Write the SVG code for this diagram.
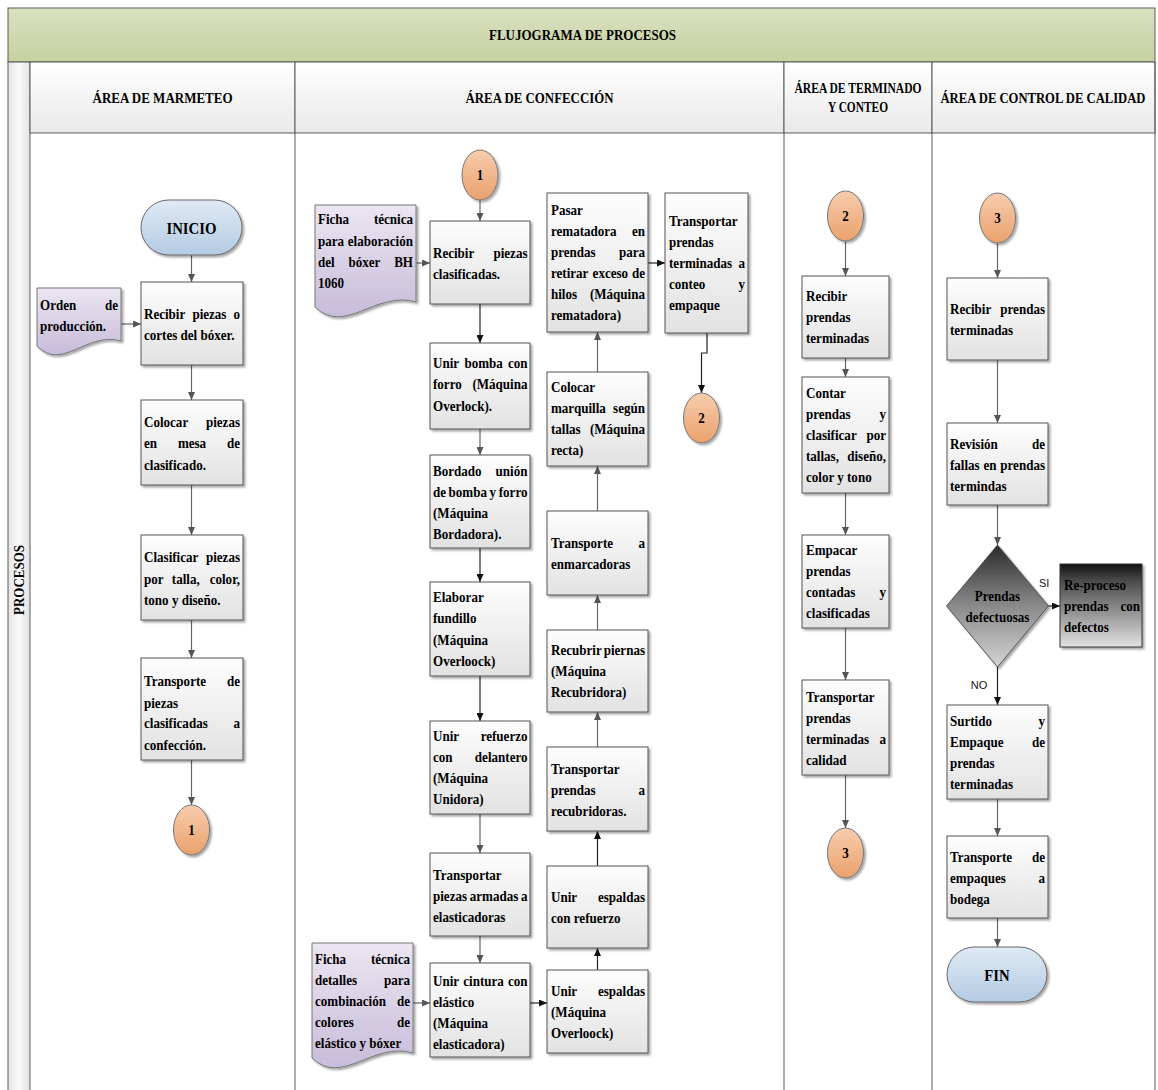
<svg xmlns="http://www.w3.org/2000/svg" width="1158" height="1090" viewBox="0 0 1158 1090">
  <defs>
    <linearGradient id="gTitle" x1="0" y1="0" x2="0" y2="1">
      <stop offset="0" stop-color="#d9e1c0"/>
      <stop offset="1" stop-color="#c6d1a1"/>
    </linearGradient>
    <linearGradient id="gHead" x1="0" y1="0" x2="0" y2="1">
      <stop offset="0" stop-color="#ffffff"/>
      <stop offset="1" stop-color="#e9e9e9"/>
    </linearGradient>
    <linearGradient id="gStrip" x1="0" y1="0" x2="1" y2="0">
      <stop offset="0" stop-color="#e4e4e4"/>
      <stop offset="0.5" stop-color="#fafafa"/>
      <stop offset="1" stop-color="#e2e2e2"/>
    </linearGradient>
    <linearGradient id="gBox" x1="0" y1="0" x2="0" y2="1">
      <stop offset="0" stop-color="#fdfdfd"/>
      <stop offset="1" stop-color="#e2e2e2"/>
    </linearGradient>
    <linearGradient id="gDoc" x1="0" y1="0" x2="0" y2="1">
      <stop offset="0" stop-color="#ebe6f1"/>
      <stop offset="1" stop-color="#c7bcda"/>
    </linearGradient>
    <linearGradient id="gTerm" x1="0" y1="0" x2="0" y2="1">
      <stop offset="0" stop-color="#dfeaf5"/>
      <stop offset="1" stop-color="#b4cbe3"/>
    </linearGradient>
    <linearGradient id="gConn" x1="0" y1="0" x2="0" y2="1">
      <stop offset="0" stop-color="#f7cdae"/>
      <stop offset="1" stop-color="#eaa16c"/>
    </linearGradient>
    <linearGradient id="gDia" x1="0" y1="0" x2="0" y2="1">
      <stop offset="0" stop-color="#2b2b2b"/>
      <stop offset="0.5" stop-color="#8a8a8a"/>
      <stop offset="1" stop-color="#d4d4d4"/>
    </linearGradient>
    <linearGradient id="gDark" x1="0" y1="0" x2="0" y2="1">
      <stop offset="0" stop-color="#111111"/>
      <stop offset="0.2" stop-color="#4a4a4a"/>
      <stop offset="1" stop-color="#e2e2e2"/>
    </linearGradient>
    <filter id="sh" x="-15%" y="-15%" width="140%" height="140%">
      <feDropShadow dx="2" dy="2" stdDeviation="1.2" flood-color="#000" flood-opacity="0.35"/>
    </filter>
    <marker id="ag" viewBox="0 0 8 7" refX="8" refY="3.5" markerWidth="8" markerHeight="7" markerUnits="userSpaceOnUse" orient="auto">
      <path d="M0,0 L8,3.5 L0,7 Z" fill="#555"/>
    </marker>
    <marker id="ab" viewBox="0 0 8 7" refX="8" refY="3.5" markerWidth="8" markerHeight="7" markerUnits="userSpaceOnUse" orient="auto">
      <path d="M0,0 L8,3.5 L0,7 Z" fill="#111"/>
    </marker>
  </defs>
  <style>
    .frame { fill: none; stroke: #5a5a5a; stroke-width: 1; }
    .hd { fill: url(#gHead); stroke: #5a5a5a; stroke-width: 1; }
    .box { fill: url(#gBox); stroke: #555; stroke-width: 1; filter: url(#sh); }
    .doc { fill: url(#gDoc); stroke: #777; stroke-width: 1; filter: url(#sh); }
    .term { fill: url(#gTerm); stroke: #666; stroke-width: 1; filter: url(#sh); }
    .conn { fill: url(#gConn); stroke: #777; stroke-width: 1; filter: url(#sh); }
    /* node texts sit in groups squeezed horizontally (scale 0.87) for a condensed face */
    .t { font-family: "Liberation Serif", "Times New Roman", serif; font-weight: bold; font-size: 15px; fill: #000; }
    .h { font-family: "Liberation Serif", "Times New Roman", serif; font-weight: bold; font-size: 15px; fill: #000; }
    .s { font-family: "Liberation Sans", Arial, sans-serif; font-size: 11px; fill: #111; }
    .e { text-anchor: end; }
    .c { text-anchor: middle; }
    .big { font-size: 17px; }
    .ln { fill: none; stroke: #666; stroke-width: 1.2; marker-end: url(#ag); }
    .lb { fill: none; stroke: #222; stroke-width: 1.2; marker-end: url(#ab); }
  </style>

  <rect width="1158" height="1090" fill="#ffffff"/>

  <!-- frame: title band, lane headers, lane borders -->
  <g id="frame">
    <rect x="8" y="8" width="1147" height="54" fill="url(#gTitle)" stroke="#5a5a5a"/>
    <text x="582.5" y="40" class="h c" textLength="187" lengthAdjust="spacingAndGlyphs">FLUJOGRAMA DE PROCESOS</text>
    <rect x="8" y="62" width="22" height="1030" fill="url(#gStrip)" stroke="#5a5a5a"/>
    <text transform="translate(24,580) rotate(-90)" class="h c" font-size="14" textLength="70" lengthAdjust="spacingAndGlyphs">PROCESOS</text>
    <rect x="30" y="62" width="265" height="71" class="hd"/>
    <rect x="295" y="62" width="489" height="71" class="hd"/>
    <rect x="784" y="62" width="148" height="71" class="hd"/>
    <rect x="932" y="62" width="223" height="71" class="hd"/>
    <text x="162.5" y="103" class="h c" textLength="140" lengthAdjust="spacingAndGlyphs">ÁREA DE MARMETEO</text>
    <text x="539.5" y="103" class="h c" textLength="148" lengthAdjust="spacingAndGlyphs">ÁREA DE CONFECCIÓN</text>
    <text x="858" y="93" class="h c" font-size="14" textLength="127" lengthAdjust="spacingAndGlyphs">ÁREA DE TERMINADO</text>
    <text x="858" y="112" class="h c" font-size="14" textLength="60" lengthAdjust="spacingAndGlyphs">Y CONTEO</text>
    <text x="1043" y="103" class="h c" font-size="13" textLength="205" lengthAdjust="spacingAndGlyphs">ÁREA DE CONTROL DE CALIDAD</text>
    <path class="frame" d="M295,133 V1092 M784,133 V1092 M932,133 V1092 M1155,62 V1092"/>
  </g>

  <!-- connectors -->
  <g id="connectors">
    <!-- marmeteo -->
    <path class="ln" d="M191.5,255 V282"/>
    <path class="ln" d="M121,324 H141"/>
    <path class="ln" d="M191.5,365 V400"/>
    <path class="ln" d="M191.5,485 V535"/>
    <path class="ln" d="M191.5,620 V658"/>
    <path class="ln" d="M191.5,760 V805"/>
    <!-- confeccion, down stack -->
    <path class="ln" d="M480,200 V221"/>
    <path class="ln" d="M416,263 H430"/>
    <path class="lb" d="M480,304 V343"/>
    <path class="ln" d="M480,429 V455"/>
    <path class="lb" d="M480,548 V582"/>
    <path class="lb" d="M480,676 V721"/>
    <path class="ln" d="M480,814 V853"/>
    <path class="ln" d="M480,936 V963"/>
    <path class="ln" d="M413,1003 H430"/>
    <path class="lb" d="M530,1003 H547"/>
    <!-- confeccion, up stack -->
    <path class="lb" d="M597.5,970 V948"/>
    <path class="lb" d="M597.5,866 V831"/>
    <path class="ln" d="M597.5,747 V712"/>
    <path class="ln" d="M597.5,630 V595"/>
    <path class="ln" d="M597.5,511 V466"/>
    <path class="ln" d="M597.5,372 V332"/>
    <path class="lb" d="M648,263 H665"/>
    <path class="lb" d="M707,333 V353 H701.5 V393"/>
    <!-- terminado -->
    <path class="ln" d="M845.5,241 V276"/>
    <path class="ln" d="M845.5,358 V377"/>
    <path class="ln" d="M845.5,493 V535"/>
    <path class="ln" d="M845.5,628 V680"/>
    <path class="ln" d="M845.5,775 V828"/>
    <!-- calidad -->
    <path class="ln" d="M997.5,243 V278"/>
    <path class="ln" d="M997.5,360 V423"/>
    <path class="ln" d="M997.5,505 V545"/>
    <path class="lb" d="M1048.5,606 H1060"/>
    <path class="lb" d="M997.5,667 V705"/>
    <path class="ln" d="M997.5,799 V836"/>
    <path class="ln" d="M997.5,918 V947"/>
    <text x="1039" y="587" class="s">SI</text>
    <text x="979" y="689" class="s c">NO</text>
  </g>

  <!-- ÁREA DE MARMETEO -->
  <g id="inicio">
    <rect x="141" y="200" width="101" height="55" rx="27.5" class="term"/>
    <g transform="scale(0.87,1)"><text x="220.11" y="234" class="t c big">INICIO</text></g>
  </g>
  <g id="doc-orden">
    <path class="doc" d="M37,288 H121 V341 C87,331 62,372 37,346 Z"/>
    <g transform="scale(0.87,1)">
      <text x="45.98" y="310" class="t">Orden</text><text x="135.63" y="310" class="t e">de</text>
      <text x="45.98" y="331" class="t">producción.</text>
    </g>
  </g>
  <g id="m-recibir">
    <rect x="141" y="282" width="102" height="83" class="box"/>
    <g transform="scale(0.87,1)">
      <text x="165.52" y="319" class="t">Recibir</text><text x="221.15" y="319" class="t">piezas</text><text x="275.86" y="319" class="t e">o</text>
      <text x="165.52" y="340" class="t">cortes del bóxer.</text>
    </g>
  </g>
  <g id="m-colocar">
    <rect x="141" y="400" width="102" height="85" class="box"/>
    <g transform="scale(0.87,1)">
      <text x="165.52" y="427" class="t">Colocar</text><text x="275.86" y="427" class="t e">piezas</text>
      <text x="165.52" y="448" class="t">en</text><text x="204.48" y="448" class="t">mesa</text><text x="275.86" y="448" class="t e">de</text>
      <text x="165.52" y="470" class="t">clasificado.</text>
    </g>
  </g>
  <g id="m-clasificar">
    <rect x="141" y="535" width="102" height="85" class="box"/>
    <g transform="scale(0.87,1)">
      <text x="165.52" y="562" class="t">Clasificar</text><text x="275.86" y="562" class="t e">piezas</text>
      <text x="165.52" y="584" class="t">por</text><text x="197.47" y="584" class="t">talla,</text><text x="275.86" y="584" class="t e">color,</text>
      <text x="165.52" y="605" class="t">tono y diseño.</text>
    </g>
  </g>
  <g id="m-transporte">
    <rect x="141" y="658" width="102" height="102" class="box"/>
    <g transform="scale(0.87,1)">
      <text x="165.52" y="686" class="t">Transporte</text><text x="275.86" y="686" class="t e">de</text>
      <text x="165.52" y="708" class="t">piezas</text>
      <text x="165.52" y="728" class="t">clasificadas</text><text x="275.86" y="728" class="t e">a</text>
      <text x="165.52" y="750" class="t">confección.</text>
    </g>
  </g>
  <g id="m-conector-1">
    <ellipse cx="191.5" cy="830" rx="18" ry="25" class="conn"/>
    <g transform="scale(0.87,1)"><text x="220.11" y="835.5" class="t c">1</text></g>
  </g>

  <!-- ÁREA DE CONFECCIÓN -->
  <g id="c-conector-1">
    <ellipse cx="480" cy="175" rx="18" ry="25" class="conn"/>
    <g transform="scale(0.87,1)"><text x="551.72" y="180.5" class="t c">1</text></g>
  </g>
  <g id="doc-ficha-1">
    <path class="doc" d="M315,205 H416 V302 C376,290 345,336 315,307 Z"/>
    <g transform="scale(0.87,1)">
      <text x="365.52" y="224" class="t">Ficha</text><text x="474.71" y="224" class="t e">técnica</text>
      <text x="365.52" y="246" class="t">para</text><text x="474.71" y="246" class="t e">elaboración</text>
      <text x="365.52" y="267" class="t">del</text><text x="400.57" y="267" class="t">bóxer</text><text x="474.71" y="267" class="t e">BH</text>
      <text x="365.52" y="288" class="t">1060</text>
    </g>
  </g>
  <g id="c-recibir">
    <rect x="430" y="221" width="100" height="83" class="box"/>
    <g transform="scale(0.87,1)">
      <text x="497.70" y="258" class="t">Recibir</text><text x="606.32" y="258" class="t e">piezas</text>
      <text x="497.70" y="279" class="t">clasificadas.</text>
    </g>
  </g>
  <g id="c-unir-bomba">
    <rect x="430" y="343" width="100" height="86" class="box"/>
    <g transform="scale(0.87,1)">
      <text x="497.70" y="368" class="t">Unir</text><text x="533.79" y="368" class="t">bomba</text><text x="606.32" y="368" class="t e">con</text>
      <text x="497.70" y="389" class="t">forro</text><text x="606.32" y="389" class="t e">(Máquina</text>
      <text x="497.70" y="411" class="t">Overlock).</text>
    </g>
  </g>
  <g id="c-bordado">
    <rect x="430" y="455" width="100" height="93" class="box"/>
    <g transform="scale(0.87,1)">
      <text x="497.70" y="476" class="t">Bordado</text><text x="606.32" y="476" class="t e">unión</text>
      <text x="497.70" y="497" class="t">de</text><text x="515.63" y="497" class="t">bomba</text><text x="562.64" y="497" class="t">y</text><text x="606.32" y="497" class="t e">forro</text>
      <text x="497.70" y="518" class="t">(Máquina</text>
      <text x="497.70" y="539" class="t">Bordadora).</text>
    </g>
  </g>
  <g id="c-fundillo">
    <rect x="430" y="582" width="100" height="94" class="box"/>
    <g transform="scale(0.87,1)">
      <text x="497.70" y="602" class="t">Elaborar</text>
      <text x="497.70" y="623" class="t">fundillo</text>
      <text x="497.70" y="645" class="t">(Máquina</text>
      <text x="497.70" y="666" class="t">Overloock)</text>
    </g>
  </g>
  <g id="c-refuerzo">
    <rect x="430" y="721" width="100" height="93" class="box"/>
    <g transform="scale(0.87,1)">
      <text x="497.70" y="741" class="t">Unir</text><text x="606.32" y="741" class="t e">refuerzo</text>
      <text x="497.70" y="762" class="t">con</text><text x="606.32" y="762" class="t e">delantero</text>
      <text x="497.70" y="783" class="t">(Máquina</text>
      <text x="497.70" y="804" class="t">Unidora)</text>
    </g>
  </g>
  <g id="c-transportar-piezas">
    <rect x="430" y="853" width="100" height="83" class="box"/>
    <g transform="scale(0.87,1)">
      <text x="497.70" y="880" class="t">Transportar</text>
      <text x="497.70" y="901" class="t">piezas</text><text x="540.00" y="901" class="t">armadas</text><text x="606.32" y="901" class="t e">a</text>
      <text x="497.70" y="922" class="t">elasticadoras</text>
    </g>
  </g>
  <g id="doc-ficha-2">
    <path class="doc" d="M312,943 H413 V1053 C373,1041 342,1087 312,1058 Z"/>
    <g transform="scale(0.87,1)">
      <text x="362.07" y="964" class="t">Ficha</text><text x="471.26" y="964" class="t e">técnica</text>
      <text x="362.07" y="985" class="t">detalles</text><text x="471.26" y="985" class="t e">para</text>
      <text x="362.07" y="1006" class="t">combinación</text><text x="471.26" y="1006" class="t e">de</text>
      <text x="362.07" y="1027" class="t">colores</text><text x="471.26" y="1027" class="t e">de</text>
      <text x="362.07" y="1048" class="t">elástico y bóxer</text>
    </g>
  </g>
  <g id="c-cintura">
    <rect x="430" y="963" width="100" height="94" class="box"/>
    <g transform="scale(0.87,1)">
      <text x="497.70" y="986" class="t">Unir</text><text x="532.53" y="986" class="t">cintura</text><text x="606.32" y="986" class="t e">con</text>
      <text x="497.70" y="1007" class="t">elástico</text>
      <text x="497.70" y="1028" class="t">(Máquina</text>
      <text x="497.70" y="1049" class="t">elasticadora)</text>
    </g>
  </g>
  <g id="c-espaldas-overloock">
    <rect x="547" y="970" width="101" height="83" class="box"/>
    <g transform="scale(0.87,1)">
      <text x="633.33" y="996" class="t">Unir</text><text x="741.38" y="996" class="t e">espaldas</text>
      <text x="633.33" y="1017" class="t">(Máquina</text>
      <text x="633.33" y="1038" class="t">Overloock)</text>
    </g>
  </g>
  <g id="c-espaldas-refuerzo">
    <rect x="547" y="866" width="101" height="82" class="box"/>
    <g transform="scale(0.87,1)">
      <text x="633.33" y="902" class="t">Unir</text><text x="741.38" y="902" class="t e">espaldas</text>
      <text x="633.33" y="923" class="t">con refuerzo</text>
    </g>
  </g>
  <g id="c-transportar-recubridoras">
    <rect x="547" y="747" width="101" height="84" class="box"/>
    <g transform="scale(0.87,1)">
      <text x="633.33" y="774" class="t">Transportar</text>
      <text x="633.33" y="795" class="t">prendas</text><text x="741.38" y="795" class="t e">a</text>
      <text x="633.33" y="816" class="t">recubridoras.</text>
    </g>
  </g>
  <g id="c-recubrir">
    <rect x="547" y="630" width="101" height="82" class="box"/>
    <g transform="scale(0.87,1)">
      <text x="633.33" y="655" class="t">Recubrir</text><text x="741.38" y="655" class="t e">piernas</text>
      <text x="633.33" y="676" class="t">(Máquina</text>
      <text x="633.33" y="697" class="t">Recubridora)</text>
    </g>
  </g>
  <g id="c-enmarcadoras">
    <rect x="547" y="511" width="101" height="84" class="box"/>
    <g transform="scale(0.87,1)">
      <text x="633.33" y="548" class="t">Transporte</text><text x="741.38" y="548" class="t e">a</text>
      <text x="633.33" y="569" class="t">enmarcadoras</text>
    </g>
  </g>
  <g id="c-marquilla">
    <rect x="547" y="372" width="101" height="94" class="box"/>
    <g transform="scale(0.87,1)">
      <text x="633.33" y="392" class="t">Colocar</text>
      <text x="633.33" y="413" class="t">marquilla</text><text x="741.38" y="413" class="t e">según</text>
      <text x="633.33" y="434" class="t">tallas</text><text x="741.38" y="434" class="t e">(Máquina</text>
      <text x="633.33" y="455" class="t">recta)</text>
    </g>
  </g>
  <g id="c-rematadora">
    <rect x="547" y="193" width="101" height="139" class="box"/>
    <g transform="scale(0.87,1)">
      <text x="633.33" y="215.5" class="t">Pasar</text>
      <text x="633.33" y="236.5" class="t">rematadora</text><text x="741.38" y="236.5" class="t e">en</text>
      <text x="633.33" y="257.5" class="t">prendas</text><text x="741.38" y="257.5" class="t e">para</text>
      <text x="633.33" y="278.5" class="t">retirar</text><text x="681.15" y="278.5" class="t">exceso</text><text x="741.38" y="278.5" class="t e">de</text>
      <text x="633.33" y="299.5" class="t">hilos</text><text x="741.38" y="299.5" class="t e">(Máquina</text>
      <text x="633.33" y="320.5" class="t">rematadora)</text>
    </g>
  </g>
  <g id="c-transportar-conteo">
    <rect x="665" y="193" width="83" height="140" class="box"/>
    <g transform="scale(0.87,1)">
      <text x="768.97" y="226" class="t">Transportar</text>
      <text x="768.97" y="247" class="t">prendas</text>
      <text x="768.97" y="268" class="t">terminadas</text><text x="856.32" y="268" class="t e">a</text>
      <text x="768.97" y="289" class="t">conteo</text><text x="856.32" y="289" class="t e">y</text>
      <text x="768.97" y="310" class="t">empaque</text>
    </g>
  </g>
  <g id="c-conector-2">
    <ellipse cx="701.5" cy="418" rx="18" ry="25" class="conn"/>
    <g transform="scale(0.87,1)"><text x="806.32" y="423.5" class="t c">2</text></g>
  </g>

  <!-- ÁREA DE TERMINADO Y CONTEO -->
  <g id="t-conector-2">
    <ellipse cx="845.5" cy="216" rx="18" ry="25" class="conn"/>
    <g transform="scale(0.87,1)"><text x="971.84" y="221.5" class="t c">2</text></g>
  </g>
  <g id="t-recibir">
    <rect x="802" y="276" width="87" height="82" class="box"/>
    <g transform="scale(0.87,1)">
      <text x="926.44" y="301" class="t">Recibir</text>
      <text x="926.44" y="322" class="t">prendas</text>
      <text x="926.44" y="343" class="t">terminadas</text>
    </g>
  </g>
  <g id="t-contar">
    <rect x="802" y="377" width="87" height="116" class="box"/>
    <g transform="scale(0.87,1)">
      <text x="926.44" y="398" class="t">Contar</text>
      <text x="926.44" y="419" class="t">prendas</text><text x="1018.39" y="419" class="t e">y</text>
      <text x="926.44" y="440" class="t">clasificar</text><text x="1018.39" y="440" class="t e">por</text>
      <text x="926.44" y="461" class="t">tallas,</text><text x="1018.39" y="461" class="t e">diseño,</text>
      <text x="926.44" y="482" class="t">color y tono</text>
    </g>
  </g>
  <g id="t-empacar">
    <rect x="802" y="535" width="87" height="93" class="box"/>
    <g transform="scale(0.87,1)">
      <text x="926.44" y="555" class="t">Empacar</text>
      <text x="926.44" y="576" class="t">prendas</text>
      <text x="926.44" y="597" class="t">contadas</text><text x="1018.39" y="597" class="t e">y</text>
      <text x="926.44" y="618" class="t">clasificadas</text>
    </g>
  </g>
  <g id="t-transportar">
    <rect x="802" y="680" width="87" height="95" class="box"/>
    <g transform="scale(0.87,1)">
      <text x="926.44" y="702" class="t">Transportar</text>
      <text x="926.44" y="723" class="t">prendas</text>
      <text x="926.44" y="744" class="t">terminadas</text><text x="1018.39" y="744" class="t e">a</text>
      <text x="926.44" y="765" class="t">calidad</text>
    </g>
  </g>
  <g id="t-conector-3">
    <ellipse cx="845.5" cy="853" rx="18" ry="25" class="conn"/>
    <g transform="scale(0.87,1)"><text x="971.84" y="858.5" class="t c">3</text></g>
  </g>

  <!-- ÁREA DE CONTROL DE CALIDAD -->
  <g id="q-conector-3">
    <ellipse cx="997.5" cy="218" rx="18" ry="25" class="conn"/>
    <g transform="scale(0.87,1)"><text x="1146.55" y="223.5" class="t c">3</text></g>
  </g>
  <g id="q-recibir">
    <rect x="947" y="278" width="101" height="82" class="box"/>
    <g transform="scale(0.87,1)">
      <text x="1091.95" y="314" class="t">Recibir</text><text x="1201.15" y="314" class="t e">prendas</text>
      <text x="1091.95" y="335" class="t">terminadas</text>
    </g>
  </g>
  <g id="q-revision">
    <rect x="947" y="423" width="101" height="82" class="box"/>
    <g transform="scale(0.87,1)">
      <text x="1091.95" y="449" class="t">Revisión</text><text x="1201.15" y="449" class="t e">de</text>
      <text x="1091.95" y="470" class="t">fallas</text><text x="1130.34" y="470" class="t">en</text><text x="1201.15" y="470" class="t e">prendas</text>
      <text x="1091.95" y="491" class="t">termindas</text>
    </g>
  </g>
  <g id="q-decision">
    <polygon points="997.5,545 1048.5,606 997.5,667 946.5,606" fill="url(#gDia)" stroke="#555" filter="url(#sh)"/>
    <g transform="scale(0.87,1)">
      <text x="1146.55" y="601" class="t c">Prendas</text>
      <text x="1146.55" y="622" class="t c">defectuosas</text>
    </g>
  </g>
  <g id="q-reproceso">
    <rect x="1060" y="564" width="82" height="83" fill="url(#gDark)" stroke="#333" filter="url(#sh)"/>
    <g transform="scale(0.87,1)">
      <text x="1222.99" y="590" class="t">Re-proceso</text>
      <text x="1222.99" y="611" class="t">prendas</text><text x="1310.34" y="611" class="t e">con</text>
      <text x="1222.99" y="632" class="t">defectos</text>
    </g>
  </g>
  <g id="q-surtido">
    <rect x="947" y="705" width="101" height="94" class="box"/>
    <g transform="scale(0.87,1)">
      <text x="1091.95" y="726" class="t">Surtido</text><text x="1201.15" y="726" class="t e">y</text>
      <text x="1091.95" y="747" class="t">Empaque</text><text x="1201.15" y="747" class="t e">de</text>
      <text x="1091.95" y="768" class="t">prendas</text>
      <text x="1091.95" y="789" class="t">terminadas</text>
    </g>
  </g>
  <g id="q-bodega">
    <rect x="947" y="836" width="101" height="82" class="box"/>
    <g transform="scale(0.87,1)">
      <text x="1091.95" y="862" class="t">Transporte</text><text x="1201.15" y="862" class="t e">de</text>
      <text x="1091.95" y="883" class="t">empaques</text><text x="1201.15" y="883" class="t e">a</text>
      <text x="1091.95" y="904" class="t">bodega</text>
    </g>
  </g>
  <g id="fin">
    <rect x="947" y="947" width="100" height="55" rx="27.5" class="term"/>
    <g transform="scale(0.87,1)"><text x="1145.98" y="981" class="t c big">FIN</text></g>
  </g>
</svg>
